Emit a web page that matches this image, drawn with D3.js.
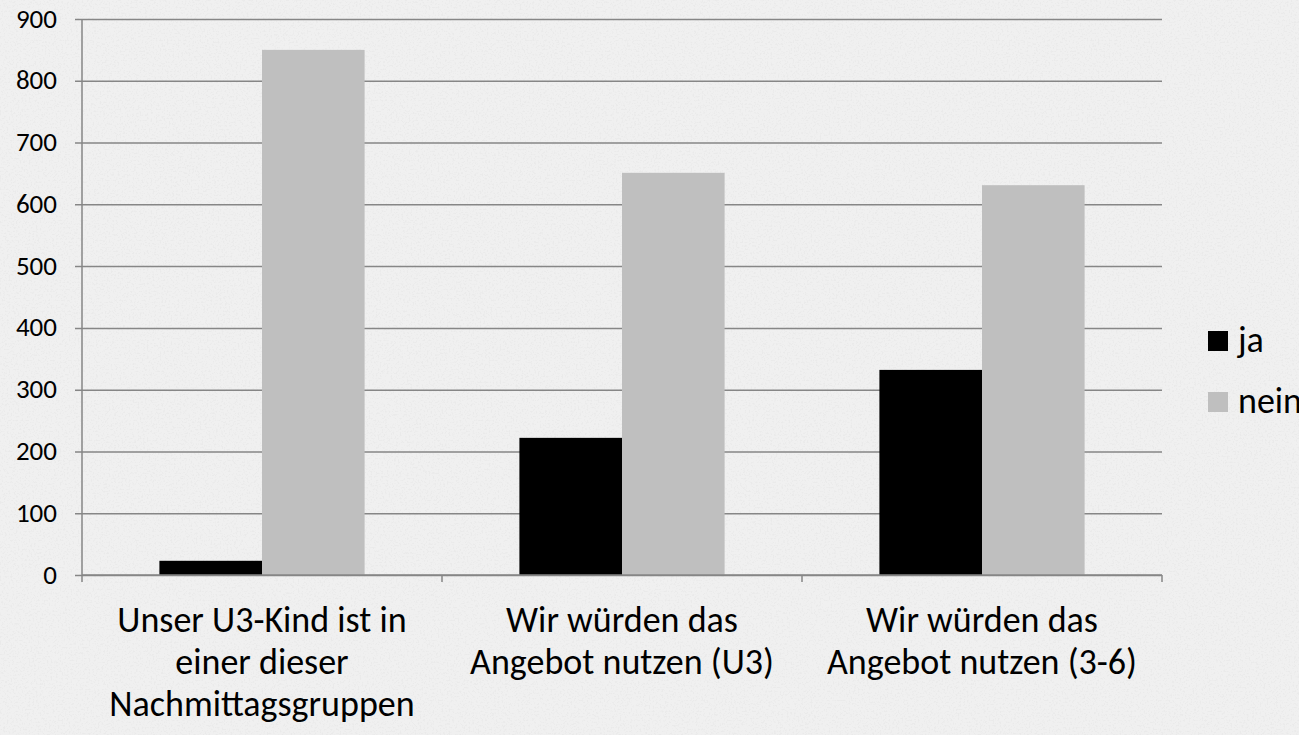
<!DOCTYPE html>
<html>
<head>
<meta charset="utf-8">
<script src="https://cdn.jsdelivr.net/npm/d3@7"></script>
<style>
  body { margin: 0; background: #f0f0f0; overflow: hidden; }
  svg text { font-family: Carlito, "Open Sans", "Liberation Sans", sans-serif; fill: #000; }
</style>
</head>
<body>
<div class="chart"></div>
<script>
// data
const categories = [
  ["Unser U3-Kind ist in", "einer dieser", "Nachmittagsgruppen"],
  ["Wir würden das", "Angebot nutzen (U3)"],
  ["Wir würden das", "Angebot nutzen (3-6)"]
];
const seriesNames = ["ja", "nein"];
const jaValues = [23, 222, 332];
const neinValues = [850, 651, 631];
const yTicks = [0, 100, 200, 300, 400, 500, 600, 700, 800, 900];
const colors = ["#000000", "#bfbfbf"];

let width = 1299, height = 735;
let margin = {top: 19, right: 137, bottom: 160, left: 82};
let w = width - margin.left - margin.right;
let h = height - margin.top - margin.bottom;

let svg = d3.select(".chart")
  .append("svg")
    .attr("width", width)
    .attr("height", height)
    .style("display", "block");

// background with a light paper texture
let defs = svg.append("defs");
let f = defs.append("filter").attr("id", "paper").attr("x", 0).attr("y", 0).attr("width", 1).attr("height", 1);
f.append("feTurbulence").attr("type", "fractalNoise").attr("baseFrequency", 0.55).attr("numOctaves", 2).attr("seed", 7).attr("result", "n");
f.append("feColorMatrix").attr("in", "n").attr("type", "matrix")
  .attr("values", "0 0 0 0 0.78  0 0 0 0 0.78  0 0 0 0 0.78  0 0 0 5 -2.6")
  .attr("result", "c");
f.append("feComposite").attr("in", "c").attr("in2", "SourceGraphic").attr("operator", "in");
svg.append("rect").attr("width", width).attr("height", height).attr("fill", "#f0f0f0");
svg.append("rect").attr("width", width).attr("height", height).attr("fill", "#fff").attr("filter", "url(#paper)").attr("opacity", 0.5);

let g = svg.append("g")
    .attr("transform", "translate(" + margin.left + "," + margin.top + ")");

let x = d3.scaleBand()
    .domain(d3.range(categories.length))
    .range([0, w])
    .paddingInner(0.43)
    .paddingOuter(0.215);
let x0 = d3.scaleBand().domain(d3.range(categories.length)).range([0, w]);
let xs = d3.scaleBand().domain(seriesNames).range([0, x.bandwidth()]);

let y = d3.scaleLinear().domain([0, 900]).range([h, 0]);

// gridlines + y labels
let yAxis = g.append("g")
    .call(d3.axisLeft(y).tickValues(yTicks).tickSize(-w - 7).tickFormat(d3.format("d")));
yAxis.select(".domain").remove();
yAxis.selectAll(".tick line").attr("x1", -7).attr("x2", w).attr("stroke", "#868686").attr("stroke-width", 1.5);
yAxis.selectAll(".tick text").style("font-size", "27px").attr("x", -25).attr("dy", "0.3em");

// bars
let series = [jaValues, neinValues];
series.forEach((vals, si) => {
  g.selectAll(".bar" + si)
    .data(vals)
    .enter()
    .append("rect")
      .attr("class", "bar" + si)
      .attr("x", (d, i) => x(i) + xs(seriesNames[si]))
      .attr("y", d => y(d))
      .attr("width", xs.bandwidth())
      .attr("height", d => y(0) - y(d))
      .style("fill", colors[si]);
});

// y axis line
g.append("line").attr("x1", 0).attr("x2", 0).attr("y1", 0).attr("y2", h + 7)
  .attr("stroke", "#868686").attr("stroke-width", 1.5);

// x axis line and ticks
g.append("line").attr("x1", 0).attr("x2", w).attr("y1", h).attr("y2", h)
  .attr("stroke", "#868686").attr("stroke-width", 1.5);
g.selectAll(".xtick")
  .data(d3.range(categories.length))
  .enter()
  .append("line")
    .attr("x1", i => x0(i) + x0.bandwidth())
    .attr("x2", i => x0(i) + x0.bandwidth())
    .attr("y1", h).attr("y2", h + 7)
    .attr("stroke", "#868686").attr("stroke-width", 1.5);

// category labels
categories.forEach((lines, i) => {
  let t = g.append("text")
    .attr("text-anchor", "middle")
    .attr("x", x0(i) + x0.bandwidth() / 2)
    .attr("y", h + 57)
    .style("font-size", "36px");
  lines.forEach((l, k) => {
    t.append("tspan").attr("x", x0(i) + x0.bandwidth() / 2).attr("dy", k === 0 ? 0 : 42).text(l);
  });
});

// legend
let legend = svg.append("g").attr("transform", "translate(1208,331)");
seriesNames.forEach((s, i) => {
  let row = legend.append("g").attr("transform", "translate(0," + (i * 61) + ")");
  row.append("rect").attr("width", 20).attr("height", 20).style("fill", colors[i]);
  row.append("text").attr("x", 30).attr("y", 21).style("font-size", "36px").text(s);
});
</script>
</body>
</html>
